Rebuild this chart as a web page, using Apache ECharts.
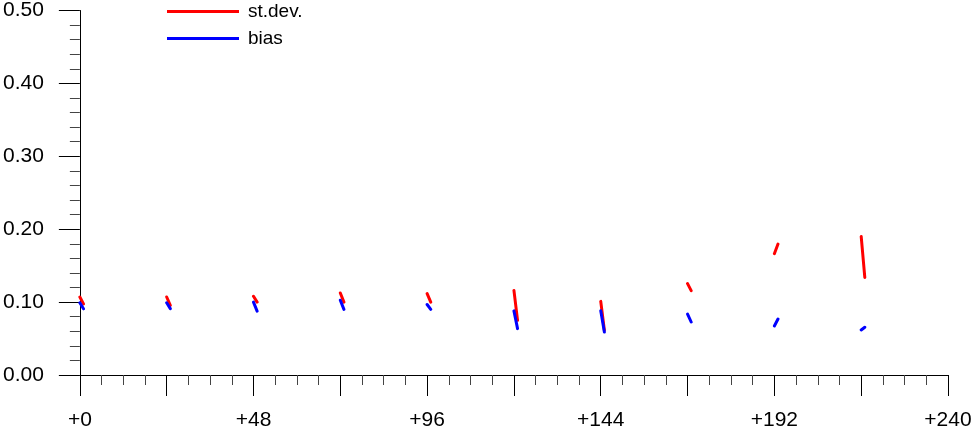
<!DOCTYPE html>
<html>
<head>
<meta charset="utf-8">
<script src="https://cdn.jsdelivr.net/npm/echarts@6/dist/echarts.min.js"></script>
<style>html,body{margin:0;padding:0;background:#fff;}#c{width:975px;height:431px;}</style>
</head>
<body>
<div id="c"></div>
<script>
// Lead times (hours) at which each short segment starts; each segment spans one hour
const leads = [0, 24, 48, 72, 96, 120, 144, 168, 192, 216];
const segLen = 1;
const stdevStart = [0.107, 0.107, 0.108, 0.1125, 0.1117, 0.116, 0.101, 0.1253, 0.1664, 0.190];
const stdevEnd   = [0.0976, 0.0954, 0.100, 0.100, 0.100, 0.075, 0.0614, 0.1158, 0.1796, 0.1338];
const biasStart  = [0.099, 0.099, 0.100, 0.1026, 0.0967, 0.088, 0.088, 0.0836, 0.0673, 0.0618];
const biasEnd    = [0.0908, 0.091, 0.0876, 0.090, 0.090, 0.0636, 0.059, 0.0727, 0.0768, 0.0655];
const xTicks = [0, 48, 96, 144, 192, 240];
const seriesNames = ['st.dev.', 'bias'];

function segs(a, b) {
  const out = [];
  leads.forEach((t, i) => {
    out.push([t, a[i]]);
    out.push([t + segLen, b[i]]);
    out.push([t + segLen + 1, '-']);
  });
  return out;
}

const FONT = 'Liberation Sans, Arial, Helvetica, sans-serif';
const chart = echarts.init(document.getElementById('c'), null, {renderer: 'canvas'});
chart.setOption({
  animation: false,
  backgroundColor: '#ffffff',
  grid: {left: 79, right: 27, top: 9, bottom: 53, containLabel: false},
  legend: {
    orient: 'vertical',
    left: 167, top: 2, padding: 0,
    itemWidth: 72, itemHeight: 3, itemGap: 8,
    icon: 'rect',
    textStyle: {fontFamily: FONT, fontSize: 19, color: '#000', padding: [0, 0, 0, 4]},
    data: seriesNames
  },
  xAxis: {
    type: 'value', min: 0, max: 240, interval: 24,
    axisLine: {show: true, lineStyle: {color: '#000', width: 1}},
    axisTick: {show: true, inside: false, length: 21, lineStyle: {color: '#000', width: 1}},
    minorTick: {show: true, splitNumber: 4, length: 10, lineStyle: {color: '#444', width: 1}},
    splitLine: {show: false},
    axisLabel: {
      margin: 35, fontFamily: FONT, fontSize: 21, color: '#000',
      formatter: v => (xTicks.indexOf(v) >= 0 ? '+' + v : '')
    }
  },
  yAxis: {
    type: 'value', min: 0, max: 0.5, interval: 0.1,
    axisLine: {show: true, lineStyle: {color: '#000', width: 1}},
    axisTick: {show: true, inside: false, length: 21, lineStyle: {color: '#000', width: 1}},
    minorTick: {show: true, splitNumber: 5, length: 10, lineStyle: {color: '#444', width: 1}},
    splitLine: {show: false},
    axisLabel: {margin: 36, fontFamily: FONT, fontSize: 21, color: '#000', formatter: v => v.toFixed(2)}
  },
  series: [
    {name: seriesNames[0], type: 'line', showSymbol: false, symbol: 'none', connectNulls: false,
     color: '#ff0000', lineStyle: {color: '#ff0000', width: 3, cap: 'round'}, data: segs(stdevStart, stdevEnd)},
    {name: seriesNames[1], type: 'line', showSymbol: false, symbol: 'none', connectNulls: false,
     color: '#0000ff', lineStyle: {color: '#0000ff', width: 3, cap: 'round'}, data: segs(biasStart, biasEnd)}
  ]
});
</script>
</body>
</html>
